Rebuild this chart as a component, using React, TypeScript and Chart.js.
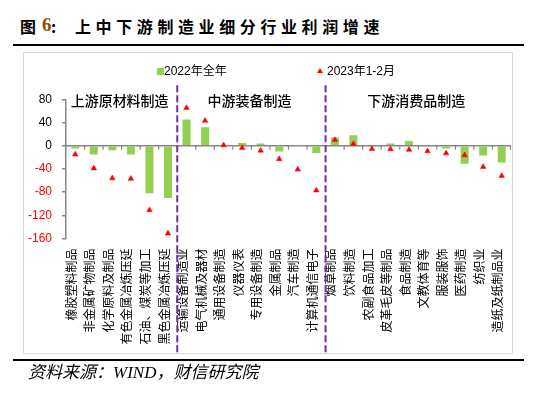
import React, { useEffect, useRef } from 'react';
import { Chart, registerables } from 'chart.js';

Chart.register(...registerables);

const categories = [
  '橡胶塑料制品', '非金属矿物制品', '化学原料及制品', '有色金属冶炼压延', '石油、煤炭等加工', '黑色金属冶炼压延',
  '运输设备制造业', '电气机械及器材', '通用设备制造', '仪器仪表', '专用设备制造', '金属制品', '汽车制造', '计算机通信电子',
  '烟草制品', '饮料制造', '农副食品加工', '皮革毛皮等制品', '食品制造', '文教体育等', '服装服饰', '医药制造', '纺织业', '造纸及纸制品业',
];
const profit2022 = [
  -5, -15, -8, -15, -82, -90,
  45, 32, 0.5, 4.5, 4, -10, 0.6, -12.5,
  14, 18, -0.5, 4, 8, -1, -5, -31, -17, -29,
];
const profit2023JanFeb = [
  -15, -39, -56, -57, -111, -151,
  65, 43, 1, -4, -8.5, -23, -41, -77,
  10, 3, -5.5, -6, -7, -9.5, -13, -16.5, -36.5, -52,
];
const seriesNames = ['2022年全年', '2023年1-2月'];
const groupTitles = ['上游原材料制造', '中游装备制造', '下游消费品制造'];
const groupSizes = [6, 8, 10];
const yMin = -160;
const yMax = 80;
const yStep = 40;

const GREEN = '#92D050';
const RED = '#FF0000';
const PURPLE = '#7030A0';
const AXIS = '#868686';
const CJK = '"Noto Sans CJK SC", sans-serif';

const decorPlugin = {
  id: 'decor',
  beforeDatasetsDraw(chart: any) {
    const { ctx, chartArea, scales } = chart;
    const x = scales.x;
    const y = scales.y;
    const y0 = y.getPixelForValue(0);
    ctx.save();
    ctx.strokeStyle = AXIS;
    ctx.lineWidth = 1.5;
    ctx.beginPath();
    ctx.moveTo(chartArea.left, y0);
    ctx.lineTo(chartArea.right, y0);
    ctx.stroke();
    ctx.lineWidth = 1.2;
    ctx.beginPath();
    const n = categories.length;
    for (let i = 1; i <= n; i++) {
      const px = i < n ? (x.getPixelForValue(i - 1) + x.getPixelForValue(i)) / 2 : chartArea.right - 0.5;
      ctx.moveTo(px, y0);
      ctx.lineTo(px, y0 + 4);
    }
    ctx.stroke();
    ctx.restore();
  },
  afterDatasetsDraw(chart: any) {
    const { ctx, chartArea, scales } = chart;
    const x = scales.x;
    const y = scales.y;
    ctx.save();
    // separators
    ctx.strokeStyle = PURPLE;
    ctx.lineWidth = 2;
    ctx.setLineDash([7, 3]);
    let start = 0;
    for (let g = 0; g < groupSizes.length - 1; g++) {
      start += groupSizes[g];
      const px = (x.getPixelForValue(start - 1) + x.getPixelForValue(start)) / 2;
      ctx.beginPath();
      ctx.moveTo(px, y.getPixelForValue(yMax) - 14);
      ctx.lineTo(px, chartArea.bottom + 114);
      ctx.stroke();
    }
    ctx.setLineDash([]);
    // group titles
    ctx.fillStyle = '#000';
    ctx.font = `500 14px ${CJK}`;
    ctx.textAlign = 'center';
    ctx.textBaseline = 'middle';
    start = 0;
    for (let g = 0; g < groupSizes.length; g++) {
      const a = x.getPixelForValue(start);
      const b = x.getPixelForValue(start + groupSizes[g] - 1);
      ctx.fillText(groupTitles[g], (a + b) / 2 - 2, y.getPixelForValue(yMax) + 1);
      start += groupSizes[g];
    }
    ctx.restore();
  },
};

function ChartCanvas() {
  const ref = useRef<HTMLCanvasElement | null>(null);
  useEffect(() => {
    if (!ref.current) return;
    Chart.defaults.font.family = '"Liberation Sans", "Noto Sans CJK SC", sans-serif';
    const chart = new Chart(ref.current, {
      type: 'bar',
      data: {
        labels: categories,
        datasets: [
          {
            type: 'line',
            label: seriesNames[1],
            data: profit2023JanFeb,
            showLine: false,
            pointStyle: 'triangle',
            pointRadius: 3.2,
            pointBackgroundColor: RED,
            pointBorderColor: RED,
            pointBorderWidth: 0.5,
            order: 0,
          } as any,
          {
            type: 'bar',
            label: seriesNames[0],
            data: profit2022,
            backgroundColor: GREEN,
            borderWidth: 0,
            barPercentage: 0.43,
            categoryPercentage: 1,
            order: 1,
          },
        ],
      },
      options: {
        animation: false,
        responsive: false,
        maintainAspectRatio: false,
        layout: { padding: { left: 23, right: 35, top: 99.3, bottom: 0 } },
        plugins: {
          legend: { display: false },
          tooltip: { enabled: false },
          title: { display: false },
        },
        scales: {
          x: {
            grid: { display: false, drawTicks: false },
            border: { display: false },
            ticks: {
              autoSkip: false,
              minRotation: 90,
              maxRotation: 90,
              padding: 10,
              labelOffset: -4,
              color: '#000',
              font: { family: CJK, size: 12 },
            },
            afterFit: (s: any) => { s.height = 157.5; },
          },
          y: {
            min: yMin,
            max: yMax,
            grid: { drawOnChartArea: false, drawTicks: true, tickLength: 4, color: AXIS, lineWidth: 1.5 },
            border: { display: true, color: AXIS, width: 1.5 },
            ticks: {
              stepSize: yStep,
              padding: 10,
              font: { size: 12 },
              color: (c: any) => (c.tick && c.tick.value < 0 ? RED : '#000'),
            },
            afterFit: (s: any) => { s.width = 43; },
          },
        },
      },
      plugins: [decorPlugin],
    });
    return () => chart.destroy();
  }, []);
  return <canvas ref={ref} width={546} height={396} style={{ position: 'absolute', left: 0, top: 0, width: 546, height: 396 }} />;
}

export default function App() {
  const abs: React.CSSProperties = { position: 'absolute', whiteSpace: 'nowrap' };
  return (
    <div style={{ position: 'absolute', left: 0, top: 0, width: 546, height: 396, background: '#fff', overflow: 'hidden' }}>
      {/* title */}
      <div style={{ ...abs, left: 20, top: 15, fontFamily: CJK, fontWeight: 700, fontSize: 16, lineHeight: '22px', color: '#000' }}>图</div>
      <div style={{ ...abs, left: 42, top: 14, fontFamily: '"Liberation Serif", serif', fontWeight: 700, fontSize: 19, lineHeight: '22px', color: '#974806' }}>6</div>
      <div style={{ ...abs, left: 51, top: 15, fontFamily: CJK, fontWeight: 700, fontSize: 16, lineHeight: '22px', color: '#000' }}>:</div>
      <div style={{ ...abs, left: 75, top: 15, fontFamily: CJK, fontWeight: 700, fontSize: 16, lineHeight: '22px', letterSpacing: '4.6px', color: '#000' }}>上中下游制造业细分行业利润增速</div>
      <div style={{ ...abs, left: 13, top: 44, width: 511, height: 2, background: '#000' }} />
      {/* chart frame */}
      <div style={{ ...abs, left: 23, top: 52, width: 488, height: 300, border: '1px solid #D9D9D9' }} />
      <ChartCanvas />
      {/* legend */}
      <div style={{ ...abs, left: 157, top: 68, width: 7, height: 7, background: GREEN }} />
      <div style={{ ...abs, left: 164, top: 64, fontSize: 12, lineHeight: '14px', fontFamily: '"Liberation Sans", "Noto Sans CJK SC", sans-serif', color: '#000' }}>{seriesNames[0]}</div>
      <div style={{ ...abs, left: 317, top: 68, width: 0, height: 0, borderLeft: '3px solid transparent', borderRight: '3px solid transparent', borderBottom: `5px solid ${RED}` }} />
      <div style={{ ...abs, left: 327, top: 64, fontSize: 12, lineHeight: '14px', fontFamily: '"Liberation Sans", "Noto Sans CJK SC", sans-serif', color: '#000' }}>{seriesNames[1]}</div>
      {/* footer */}
      <div style={{ ...abs, left: 13, top: 359, width: 511, height: 2, background: '#000' }} />
      <div style={{ ...abs, left: 28, top: 362, fontFamily: '"Liberation Serif", "Noto Sans CJK SC", serif', fontStyle: 'italic', fontSize: 17, lineHeight: '22px', color: '#000' }}>资料来源：WIND，财信研究院</div>
    </div>
  );
}
